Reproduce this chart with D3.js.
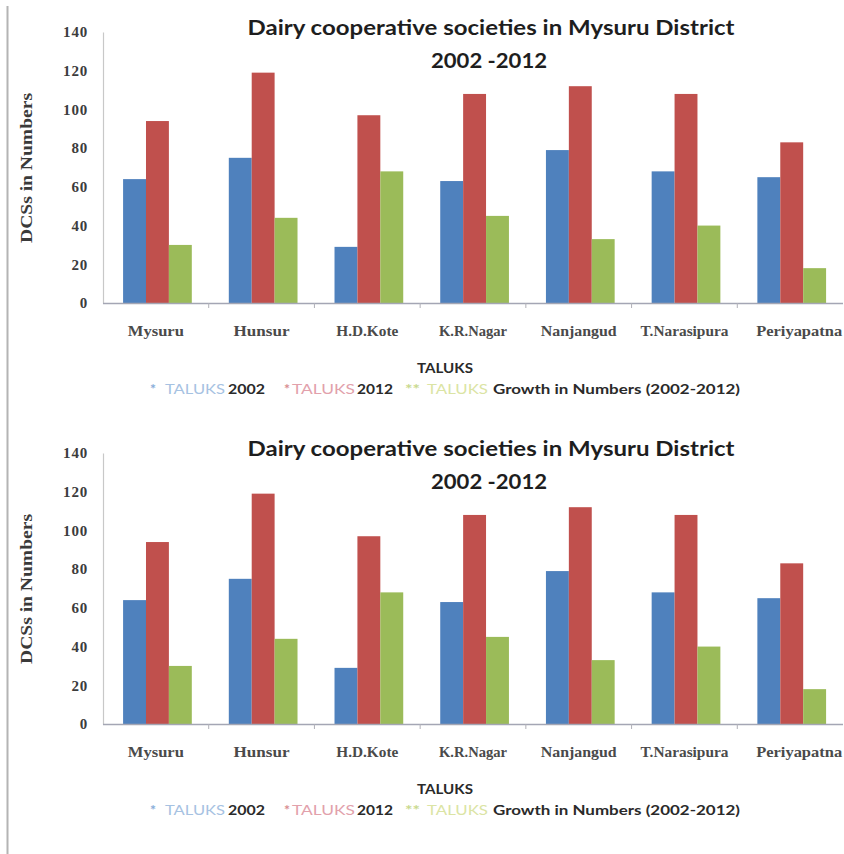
<!DOCTYPE html>
<html>
<head>
<meta charset="utf-8">
<script src="https://cdn.jsdelivr.net/npm/d3@7"></script>
<style>
  html, body { margin: 0; padding: 0; background: #ffffff; }
  svg { display: block; }
</style>
</head>
<body>
<svg id="chart" width="844" height="854"></svg>
<script>
// Taluks of Mysuru District
const taluks = ["Mysuru", "Hunsur", "H.D.Kote", "K.R.Nagar", "Nanjangud", "T.Narasipura", "Periyapatna"];
// Number of dairy cooperative societies
const dcs2002 = [64, 75, 29, 63, 79, 68, 65];
const dcs2012 = [94, 119, 97, 108, 112, 108, 83];
const growth = [30, 44, 68, 45, 33, 40, 18];
const seriesNames = ["2002", "2012", "Growth in Numbers (2002-2012)"];
const yTicks = [0, 20, 40, 60, 80, 100, 120, 140];
const titleLines = ["Dairy cooperative societies in Mysuru District", "2002 -2012"];
const xTitle = "TALUKS";
const yTitle = "DCSs  in Numbers";

const colors = ["#4f81bd", "#c0504d", "#9bbb59"];
const serif = "'Liberation Serif', 'DejaVu Serif', serif";
const sans = "Lato, 'Open Sans', 'Liberation Sans', sans-serif";

const svg = d3.select("#chart");

// Page edge on the left
svg.append("line")
  .attr("x1", 7.5).attr("x2", 7.5).attr("y1", 6).attr("y2", 854)
  .attr("stroke", "#b4b4b4").attr("stroke-width", 2);

const rows = taluks.map((t, i) => ({ taluk: t, values: [dcs2002[i], dcs2012[i], growth[i]] }));

// Approximate label widths so the condensed serif labels span their usual extent
const labelWidths = { "Mysuru": 56, "Hunsur": 56, "H.D.Kote": 62, "K.R.Nagar": 68, "Nanjangud": 76, "T.Narasipura": 88, "Periyapatna": 86 };

function drawChart(offsetY) {
  const g = svg.append("g").attr("transform", `translate(0,${offsetY})`);
  const left = 103, right = 843, top = 32, bottom = 303;

  const x = d3.scaleBand().domain(taluks).range([left, right]).padding(0);
  const inner = d3.scaleBand().domain([0, 1, 2])
    .range([x.bandwidth() * 0.19, x.bandwidth() * 0.84]).padding(0);
  const y = d3.scaleLinear().domain([0, 140]).range([bottom, top]);

  // Title
  g.append("text")
    .attr("x", 491).attr("y", 35)
    .attr("text-anchor", "middle")
    .attr("font-family", sans).attr("font-weight", 700).attr("font-size", 20)
    .attr("fill", "#1e1e1e")
    .attr("textLength", 487).attr("lengthAdjust", "spacingAndGlyphs")
    .text(titleLines[0]);
  g.append("text")
    .attr("x", 489).attr("y", 68)
    .attr("text-anchor", "middle")
    .attr("font-family", sans).attr("font-weight", 700).attr("font-size", 20)
    .attr("fill", "#1e1e1e")
    .attr("textLength", 116).attr("lengthAdjust", "spacingAndGlyphs")
    .text(titleLines[1]);

  // Y axis
  const yAxis = g.append("g")
    .attr("transform", `translate(${left},0)`)
    .call(d3.axisLeft(y).tickValues(yTicks).tickSize(0).tickPadding(15));
  yAxis.select(".domain").attr("stroke", "#c8c8c8").attr("stroke-width", 1.2);
  yAxis.selectAll("text")
    .attr("font-family", serif).attr("font-weight", 700).attr("font-size", 15)
    .attr("letter-spacing", 0.8)
    .attr("fill", "#3c3c3c");

  // Y axis title
  g.append("text")
    .attr("transform", "translate(32,168) rotate(-90)")
    .attr("text-anchor", "middle")
    .attr("font-family", serif).attr("font-weight", 700).attr("font-size", 17)
    .attr("fill", "#3a3a3a")
    .attr("textLength", 150).attr("lengthAdjust", "spacingAndGlyphs")
    .text(yTitle);

  // Bars
  const groups = g.selectAll(".grp").data(rows).join("g")
    .attr("class", "grp")
    .attr("transform", d => `translate(${x(d.taluk)},0)`);
  groups.selectAll("rect").data(d => d.values).join("rect")
    .attr("x", (v, i) => inner(i))
    .attr("width", inner.bandwidth())
    .attr("y", v => y(v))
    .attr("height", v => y(0) - y(v))
    .attr("fill", (v, i) => colors[i]);

  // X axis line and category boundary ticks
  g.append("line")
    .attr("x1", left).attr("x2", right).attr("y1", bottom + 0.5).attr("y2", bottom + 0.5)
    .attr("stroke", "#a4a6b4").attr("stroke-width", 1.5);
  g.selectAll(".bt").data(taluks.slice(1)).join("line")
    .attr("class", "bt")
    .attr("x1", d => x(d)).attr("x2", d => x(d))
    .attr("y1", bottom).attr("y2", bottom + 5)
    .attr("stroke", "#b0b0b8").attr("stroke-width", 1);

  // Category labels
  const xAxis = g.append("g")
    .attr("transform", `translate(0,${bottom})`)
    .call(d3.axisBottom(x).tickSize(0).tickPadding(23));
  xAxis.select(".domain").remove();
  xAxis.selectAll("text")
    .attr("font-family", serif).attr("font-weight", 700).attr("font-size", 14.5)
    .attr("fill", "#4a4a4a")
    .attr("textLength", d => labelWidths[d])
    .attr("lengthAdjust", "spacingAndGlyphs")
    .attr("transform", d => d === "Periyapatna" ? "translate(9,0)" : null);

  // X axis title
  g.append("text")
    .attr("x", 445).attr("y", 373)
    .attr("text-anchor", "middle")
    .attr("font-family", sans).attr("font-weight", 700).attr("font-size", 13)
    .attr("fill", "#2a2a2a")
    .attr("textLength", 56).attr("lengthAdjust", "spacingAndGlyphs")
    .text(xTitle);

  // Legend
  const legendPieces = [
    { text: "*", x: 150, w: 6, fill: "#86acd8", weight: 700 },
    { text: "TALUKS", x: 165, w: 60, fill: "#a6c2e2", weight: 400 },
    { text: seriesNames[0], x: 228, w: 37, fill: "#2a2a2a", weight: 700 },
    { text: "*", x: 284, w: 6, fill: "#d88b8f", weight: 700 },
    { text: "TALUKS", x: 292, w: 63, fill: "#e2a1ab", weight: 400 },
    { text: seriesNames[1], x: 357, w: 36, fill: "#2a2a2a", weight: 700 },
    { text: "**", x: 405, w: 15, fill: "#c9d98e", weight: 700 },
    { text: "TALUKS", x: 427, w: 61, fill: "#dbe4a4", weight: 400 },
    { text: seriesNames[2], x: 493, w: 247, fill: "#2a2a2a", weight: 700 }
  ];
  g.selectAll(".lg").data(legendPieces).join("text")
    .attr("class", "lg")
    .attr("x", d => d.x).attr("y", 394)
    .attr("font-family", sans).attr("font-weight", d => d.weight).attr("font-size", 14)
    .attr("fill", d => d.fill)
    .attr("textLength", d => d.w).attr("lengthAdjust", "spacingAndGlyphs")
    .text(d => d.text);
}

drawChart(0);
drawChart(421);
</script>
</body>
</html>
